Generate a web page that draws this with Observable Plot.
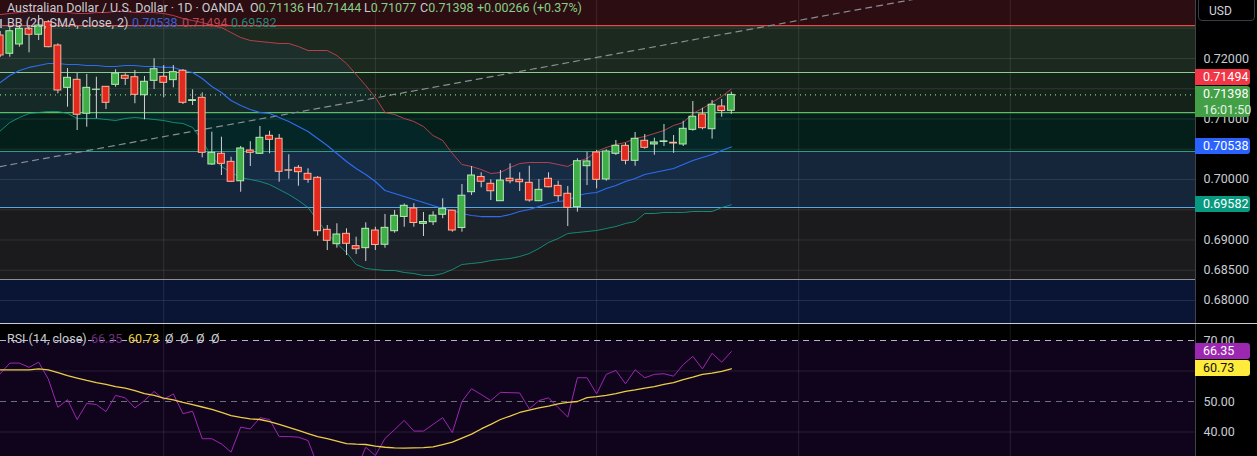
<!DOCTYPE html>
<html><head><meta charset="utf-8">
<script src="https://cdn.jsdelivr.net/npm/d3@7"></script>
<script src="https://cdn.jsdelivr.net/npm/@observablehq/plot@0.6"></script>
<style>
html,body{margin:0;padding:0;background:#000;width:1257px;height:456px;overflow:hidden;font-family:Roboto,"Liberation Sans",sans-serif;}
#wrap{position:relative;width:1257px;height:456px;overflow:hidden;}
#price{position:absolute;left:0;top:0;}
#rsi{position:absolute;left:0;top:323px;border-top:1px solid #c9ccd2;}
.t{position:absolute;white-space:nowrap;font-size:12.5px;line-height:16px;color:#c9ccd3;}
.lbl{position:absolute;left:1195px;width:55px;font-size:12.5px;line-height:16px;color:#fff;padding-left:8px;box-sizing:border-box;border-radius:0 3px 3px 0;}
#usd{position:absolute;left:1198px;top:-3px;width:57px;height:24px;border:1px solid #3a3d45;border-radius:4px;box-sizing:border-box;color:#d1d4dc;font-size:12px;line-height:26px;padding-left:10px;}
</style></head><body><div id="wrap"><div id="price"></div><div id="rsi"></div></div>
<script>
// ---- data: AUD/USD daily candles (one row per bar, left to right) ----
const opens = [0.72380,0.72078,0.72232,0.72491,0.72392,0.72600,0.72215,0.71515,0.71648,0.71087,
0.71482,0.71532,0.71565,0.71714,0.71691,0.71393,0.71631,0.71698,0.71642,0.71797,
0.71298,0.71350,0.70248,0.70425,0.70292,0.69971,0.70479,0.70425,0.70722,0.70673,
0.70152,0.70193,0.70094,0.70028,0.69168,0.68931,0.69102,0.68898,0.68865,0.69157,
0.68921,0.69145,0.69381,0.69521,0.69267,0.69294,0.69417,0.69485,0.69198,0.69790,
0.70042,0.69929,0.69641,0.70012,0.69995,0.69945,0.69641,0.70012,0.69895,0.69764,
0.69542,0.70220,0.70446,0.70000,0.70425,0.70557,0.70309,0.70640,0.70579,0.70620,
0.70607,0.70579,0.70821,0.71075,0.70831,0.71207,0.71136];
const highs = [0.72446,0.72512,0.72545,0.72545,0.72710,0.72628,0.72243,0.71835,0.71752,0.71736,
0.71691,0.71537,0.71813,0.71747,0.71802,0.71703,0.71995,0.71884,0.71884,0.71818,
0.71482,0.71433,0.70782,0.70699,0.70368,0.70546,0.70624,0.70876,0.70798,0.70744,
0.70408,0.70231,0.70177,0.70050,0.69239,0.69268,0.69185,0.69046,0.69284,0.69211,
0.69422,0.69488,0.69595,0.69600,0.69455,0.69467,0.69681,0.69490,0.69917,0.70215,
0.70111,0.69995,0.70149,0.70259,0.70111,0.70220,0.70000,0.70111,0.69971,0.69884,
0.70342,0.70451,0.70479,0.70491,0.70645,0.70600,0.70777,0.70744,0.70683,0.70909,
0.70727,0.70963,0.71289,0.71179,0.71306,0.71322,0.71444];
const lows = [0.72017,0.72021,0.72187,0.72094,0.72298,0.72177,0.71416,0.71195,0.70810,0.70864,
0.71004,0.71157,0.71525,0.71553,0.71252,0.70987,0.71487,0.71350,0.71515,0.71240,
0.71223,0.70358,0.70231,0.70066,0.69950,0.69790,0.70215,0.70420,0.70425,0.69955,
0.70005,0.69889,0.69938,0.69063,0.68826,0.68865,0.68743,0.68760,0.68644,0.68826,
0.68865,0.69112,0.69211,0.69211,0.69058,0.69239,0.69351,0.69129,0.69129,0.69735,
0.69862,0.69653,0.69641,0.69929,0.69801,0.69625,0.69641,0.69862,0.69636,0.69223,
0.69460,0.69900,0.69846,0.69971,0.70396,0.70243,0.70220,0.70501,0.70401,0.70546,
0.70434,0.70546,0.70798,0.70821,0.70666,0.71030,0.71077];
const closes = [0.72050,0.72451,0.72491,0.72392,0.72545,0.72187,0.71471,0.71681,0.71070,0.71515,
0.71485,0.71268,0.71752,0.71665,0.71400,0.71615,0.71823,0.71598,0.71774,0.71268,
0.71311,0.70441,0.70441,0.70259,0.69962,0.70513,0.70441,0.70689,0.70656,0.70127,
0.70146,0.70121,0.69995,0.69145,0.68987,0.69091,0.68937,0.68848,0.69185,0.68918,
0.69201,0.69400,0.69565,0.69281,0.69297,0.69402,0.69516,0.69157,0.69732,0.70066,
0.69963,0.69806,0.69983,0.69971,0.69955,0.69653,0.69829,0.69872,0.69724,0.69532,
0.70302,0.70298,0.69995,0.70463,0.70557,0.70309,0.70673,0.70524,0.70612,0.70630,
0.70595,0.70838,0.71037,0.70848,0.71235,0.71132,0.71398];
// Bollinger Bands (20, SMA, close, 2)
const bbUpper = [0.72727,0.72744,0.72760,0.72777,0.72777,0.72777,0.72760,0.72760,0.72744,0.72744,
0.72760,0.72760,0.72777,0.72777,0.72760,0.72760,0.72760,0.72744,0.72711,0.72661,
0.72628,0.72595,0.72545,0.72512,0.72430,0.72347,0.72298,0.72281,0.72265,0.72248,
0.72248,0.72198,0.72132,0.72132,0.72132,0.72050,0.71917,0.71736,0.71554,0.71356,
0.71108,0.71075,0.71009,0.70959,0.70876,0.70727,0.70645,0.70430,0.70248,0.70215,
0.70165,0.70099,0.70116,0.70198,0.70264,0.70281,0.70281,0.70281,0.70248,0.70215,
0.70298,0.70347,0.70463,0.70529,0.70579,0.70612,0.70678,0.70711,0.70760,0.70810,
0.70893,0.70942,0.71091,0.71174,0.71273,0.71372,0.71494];
const bbMiddle = [0.71603,0.71719,0.71802,0.71852,0.71884,0.71917,0.71917,0.71901,0.71901,0.71884,
0.71884,0.71868,0.71868,0.71884,0.71884,0.71868,0.71868,0.71852,0.71852,0.71802,
0.71769,0.71669,0.71537,0.71438,0.71306,0.71223,0.71157,0.71108,0.71091,0.71025,
0.70959,0.70876,0.70793,0.70678,0.70562,0.70430,0.70298,0.70182,0.70083,0.69967,
0.69818,0.69769,0.69719,0.69669,0.69620,0.69570,0.69521,0.69488,0.69438,0.69405,
0.69388,0.69388,0.69388,0.69421,0.69471,0.69504,0.69554,0.69603,0.69636,0.69653,
0.69735,0.69769,0.69785,0.69851,0.69901,0.69967,0.70017,0.70083,0.70116,0.70149,
0.70182,0.70248,0.70314,0.70364,0.70413,0.70479,0.70538];
const bbLower = [0.70802,0.70942,0.71025,0.71091,0.71108,0.71124,0.71124,0.71091,0.71009,0.71009,
0.71009,0.70992,0.70975,0.71009,0.71025,0.71009,0.70992,0.70975,0.70942,0.70926,
0.70860,0.70645,0.70364,0.70215,0.70116,0.70033,0.70000,0.69967,0.69917,0.69835,
0.69752,0.69653,0.69537,0.69322,0.69107,0.68942,0.68793,0.68595,0.68529,0.68512,
0.68496,0.68496,0.68463,0.68446,0.68413,0.68413,0.68446,0.68512,0.68595,0.68612,
0.68628,0.68661,0.68678,0.68694,0.68727,0.68777,0.68860,0.68959,0.69025,0.69107,
0.69124,0.69140,0.69157,0.69190,0.69223,0.69273,0.69306,0.69438,0.69438,0.69455,
0.69455,0.69455,0.69471,0.69471,0.69471,0.69537,0.69582];
// RSI (14, close) and its moving average
const rsiValues = [59.1,62.6,62.6,61.2,62.9,57.4,48.1,50.6,44.1,49.4,
49.0,46.7,52.0,51.2,47.9,50.3,53.3,50.7,52.5,46.0,
46.8,37.8,37.8,36.1,33.4,41.6,41.0,44.7,44.1,38.5,
38.5,38.3,37.2,29.0,27.0,30.0,28.0,27.5,35.0,32.3,
37.9,40.8,43.8,40.3,40.3,42.5,44.7,39.8,50.0,54.2,
52.3,50.3,53.0,52.9,52.8,47.6,50.3,51.2,48.0,44.9,
57.8,57.8,52.5,58.9,60.2,55.8,60.4,57.8,58.9,59.1,
58.3,62.1,64.8,60.7,65.8,62.9,66.35];
const rsiMA = [60.4,60.4,60.4,60.4,60.7,60.4,59.5,58.5,57.7,56.9,
56.2,55.6,54.9,54.4,53.6,52.6,52.0,51.1,50.5,49.7,
49.0,48.2,47.4,46.4,45.4,44.8,44.3,44.1,43.4,42.5,
41.5,40.5,39.5,38.5,37.8,37.0,36.2,36.0,35.9,35.4,
35.0,34.8,34.7,34.8,34.9,35.1,35.9,36.7,38.0,39.3,
41.0,42.5,44.1,45.2,46.4,47.2,47.9,48.5,49.2,49.7,
50.0,51.3,51.6,52.0,52.6,53.3,53.8,54.4,54.9,55.6,
56.2,57.2,58.0,58.9,59.3,59.9,60.73];
// drawn horizontal levels (top to bottom) and zone colours between them
const levelPrices = [0.72545,0.71769,0.71107,0.70463,0.69537,0.68347];
const levelColors = ["#e04a4a","#8fce8a","#5fbf62","#2f9e88","#5aa9e6","#8e9096"];
const zoneColors = ["#2b0d12","#1c291e","#15221a","#041f1a","#15263a","#1b1b1d","#0a1536"];
const trendIdx = [0, 100];
const trendPrice = [0.70214, 0.73124];
const monthIdx = [17, 39, 62, 83, 105];
const gridPrices = [0.680,0.685,0.690,0.695,0.700,0.705,0.710,0.715,0.720,0.725];
const axisTicks = [0.72,0.71,0.70,0.69,0.685,0.68];
const rsiGrid = [60, 40];
const rsiTicks = [70, 50, 40];

// ---- tables ----
const candles = opens.map((o,i)=>({i, o, h:highs[i], l:lows[i], c:closes[i], up: closes[i]>=o}));
const bb = bbUpper.map((u,i)=>({i, u, m:bbMiddle[i], l:bbLower[i]}));
const rsiRows = rsiValues.map((r,i)=>({i, r, ma:rsiMA[i]}));
const bounds = [0.74, ...levelPrices, 0.66];
const zones = zoneColors.map((fill,k)=>({hi:bounds[k], lo:bounds[k+1], fill}));
const levels = levelPrices.map((p,k)=>({p, color:levelColors[k]}));
const trend = trendIdx.map((i,k)=>({i, p:trendPrice[k]}));

const W = 1257, XD = [0.0333, 124.25];
const gridStroke = "rgba(255,255,255,0.10)";
const last = candles[candles.length-1];

const price = Plot.plot({
  width: W, height: 323, marginLeft: 0, marginRight: 62, marginTop: 0, marginBottom: 0,
  style: {background: "transparent", fontFamily: "Roboto, sans-serif", fontSize: "12.5px"},
  x: {domain: XD, axis: null},
  y: {domain: [0.676198, 0.729587], axis: null},
  marks: [
    Plot.rect(zones, {y1: "lo", y2: "hi", fill: "fill", clip: true}),
    Plot.ruleY(gridPrices, {stroke: gridStroke}),
    Plot.ruleX(monthIdx, {stroke: gridStroke}),
    Plot.ruleY(levels, {y: "p", stroke: "color", strokeWidth: 1.2}),
    Plot.areaY(bb, {x: "i", y1: "l", y2: "u", fill: "#2196f3", fillOpacity: 0.06}),
    Plot.line(trend, {x: "i", y: "p", stroke: "#8a8d94", strokeWidth: 1.2, strokeDasharray: "6,5", clip: true}),
    Plot.ruleY([last.c], {stroke: "#7fd07f", strokeDasharray: "1,4", strokeWidth: 1.2}),
    Plot.line(bb, {x: "i", y: "u", stroke: "#d2424f", strokeWidth: 1, strokeOpacity: 0.85}),
    Plot.line(bb, {x: "i", y: "m", stroke: "#2f6bf0", strokeWidth: 1.2}),
    Plot.line(bb, {x: "i", y: "l", stroke: "#159e82", strokeWidth: 1, strokeOpacity: 0.85}),
    Plot.ruleX(candles, {x: "i", y1: "l", y2: "h", stroke: "#cfd2d6", strokeWidth: 1}),
    Plot.rect(candles, {x1: d=>d.i-0.5, x2: d=>d.i+0.5, y1: "o", y2: "c", insetLeft: 1.4, insetRight: 1.4,
      fill: d=>d.up ? "#3fae49" : "#e1291d", stroke: d=>d.up ? "#b4ecb4" : "#ffb39c", strokeWidth: 1}),
    Plot.ruleX([XD[1]], {stroke: "#3f4249"}),
    Plot.axisY(axisTicks, {anchor: "right", tickSize: 0, tickPadding: 8, label: null,
      tickFormat: d3.format(".5f"), color: "#c9ccd3", fontSize: 12.5})
  ]
});
document.getElementById("price").appendChild(price);

const rsi = Plot.plot({
  width: W, height: 132, marginLeft: 0, marginRight: 62, marginTop: 0, marginBottom: 0,
  style: {background: "transparent", fontFamily: "Roboto, sans-serif", fontSize: "12.5px"},
  x: {domain: XD, axis: null},
  y: {domain: [31.97, 75.25], axis: null},
  marks: [
    Plot.rect([{lo: 30, hi: 70}], {y1: "lo", y2: "hi", fill: "#10041d", clip: true}),
    Plot.ruleY(rsiGrid, {stroke: gridStroke}),
    Plot.ruleX(monthIdx, {stroke: gridStroke}),
    Plot.ruleY([70], {stroke: "#b3b6bd", strokeDasharray: "6,5"}),
    Plot.ruleY([50], {stroke: "#6c6f78", strokeDasharray: "6,5"}),
    Plot.line(rsiRows, {x: "i", y: "r", stroke: "#9c27b0", strokeWidth: 1, clip: true}),
    Plot.line(rsiRows, {x: "i", y: "ma", stroke: "#eccd45", strokeWidth: 1.3, clip: true}),
    Plot.ruleX([XD[1]], {stroke: "#3f4249"}),
    Plot.axisY(rsiTicks, {anchor: "right", tickSize: 0, tickPadding: 8, label: null,
      tickFormat: d3.format(".2f"), color: "#c9ccd3", fontSize: 12.5})
  ]
});
document.getElementById("rsi").appendChild(rsi);

// ---- overlays: legends and price labels ----
const wrap = document.getElementById("wrap");
function txt(x, y, s, color, extra) {
  const e = document.createElement("div");
  e.className = "t"; e.style.left = x + "px"; e.style.top = y + "px";
  if (color) e.style.color = color;
  if (extra) Object.assign(e.style, extra);
  e.textContent = s; wrap.appendChild(e); return e;
}
const upCol = "#86cf86";
txt(7, 0, "Australian Dollar / U.S. Dollar · 1D · OANDA");
const ohlc = [["O", last.o], ["H", last.h], ["L", last.l], ["C", last.c]];
const ohlcX = [250, 307, 364, 420];
ohlc.forEach(([k, v], j) => {
  const e = txt(ohlcX[j], 0, "");
  e.innerHTML = `${k}<span style="color:${upCol}">${v.toFixed(5)}</span>`;
});
const prevC = closes[closes.length-2];
const chg = last.c - prevC;
txt(477, 0, `+${chg.toFixed(5)} (+${(chg/prevC*100).toFixed(2)}%)`, upCol);
const icon = document.createElement("div");
Object.assign(icon.style, {position:"absolute", left:"0px", top:"19px", width:"2px", height:"9px", background:"#9a9da4"});
wrap.appendChild(icon);
txt(7, 15, "BB (20, SMA, close, 2)");
txt(132, 15, bbMiddle[bbMiddle.length-1].toFixed(5), "#3b5fd0");
txt(182, 15, bbUpper[bbUpper.length-1].toFixed(5), "#b94650");
txt(231, 15, bbLower[bbLower.length-1].toFixed(5), "#23897a");
txt(7, 331, "RSI (14, close)");
txt(91, 331, rsiValues[rsiValues.length-1].toFixed(2), "#6e2f80");
txt(128, 331, rsiMA[rsiMA.length-1].toFixed(2), "#ead24a");
[165, 180, 196, 211].forEach(x => txt(x, 331, "Ø"));

const usd = document.createElement("div"); usd.id = "usd"; usd.textContent = "USD"; wrap.appendChild(usd);

const yP = price.scale("y"), yR = rsi.scale("y");
function label(top, bg, color, html, h) {
  const e = document.createElement("div");
  e.className = "lbl"; e.style.top = top + "px"; e.style.background = bg; e.style.color = color;
  e.style.height = h + "px"; e.innerHTML = html; wrap.appendChild(e); return e;
}
const gTop = yP.apply(last.c) - 8;
label(gTop, "#43a047", "#fff", `${last.c.toFixed(5)}<br><span style="color:#e3f3e3">16:01:50</span>`, 31);
let rTop = yP.apply(bbUpper[bbUpper.length-1]) - 8;
if (rTop + 17 > gTop) rTop = gTop - 17;
label(rTop, "#f23645", "#fff", bbUpper[bbUpper.length-1].toFixed(5), 16);
label(yP.apply(bbMiddle[bbMiddle.length-1]) - 8, "#2962ff", "#fff", bbMiddle[bbMiddle.length-1].toFixed(5), 16);
label(yP.apply(bbLower[bbLower.length-1]) - 8, "#089981", "#fff", bbLower[bbLower.length-1].toFixed(5), 16);
label(324 + yR.apply(rsiValues[rsiValues.length-1]) - 8, "#9c27b0", "#fff", rsiValues[rsiValues.length-1].toFixed(2), 16);
label(324 + yR.apply(rsiMA[rsiMA.length-1]) - 8, "#ffeb3b", "#111", rsiMA[rsiMA.length-1].toFixed(2), 16);
</script></body></html>
